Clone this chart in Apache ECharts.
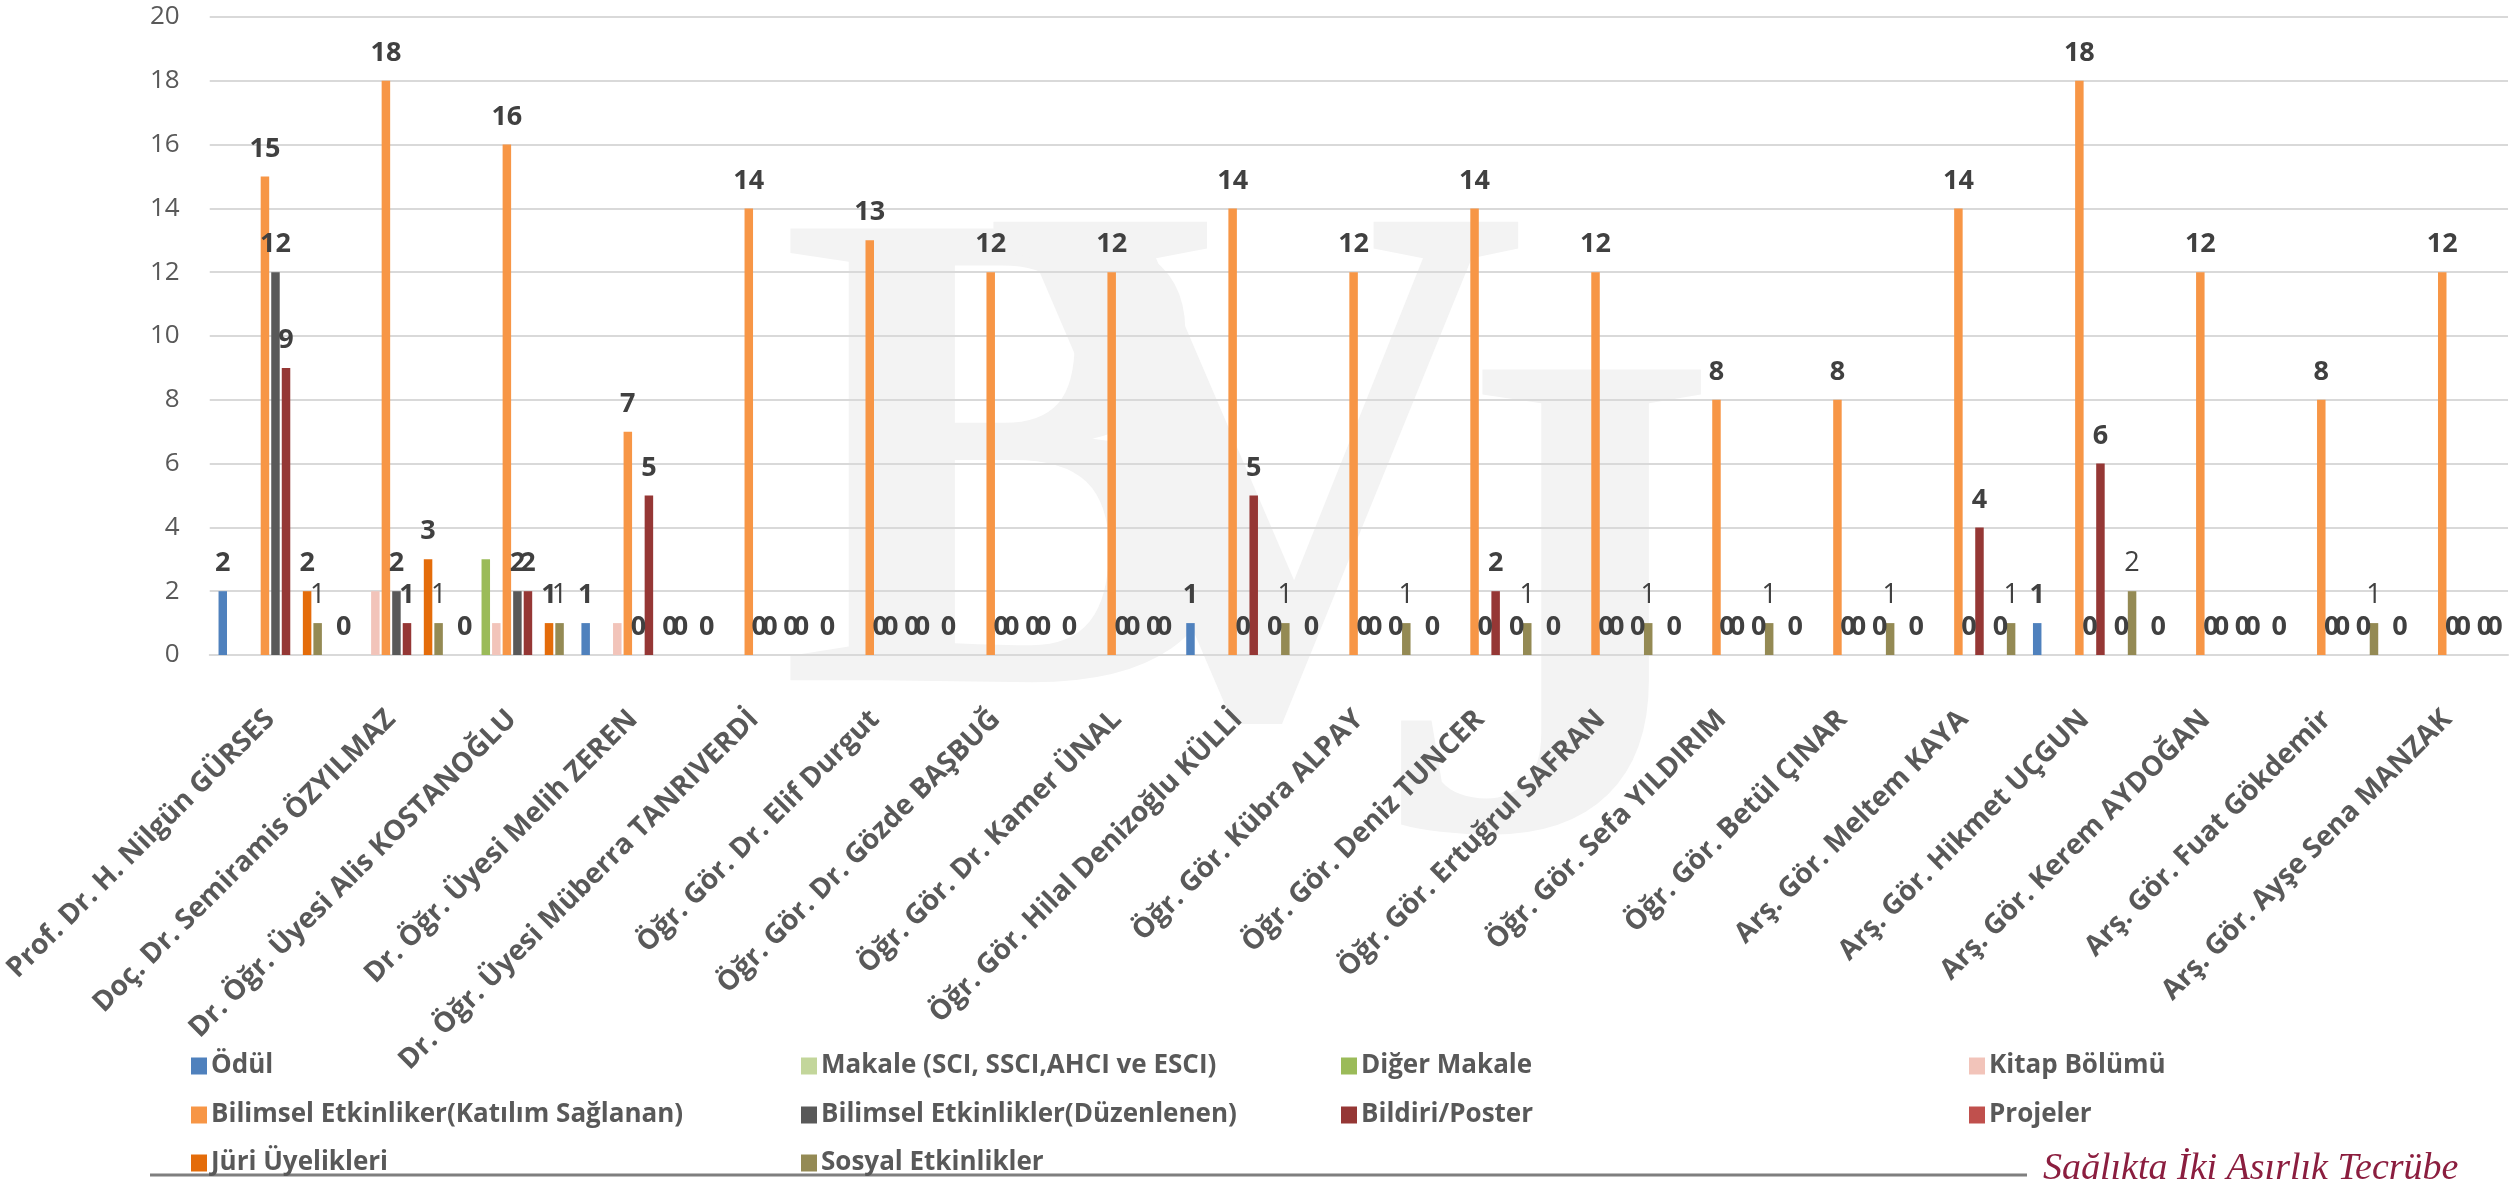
<!DOCTYPE html>
<html>
<head>
<meta charset="utf-8">
<script src="https://cdn.jsdelivr.net/npm/echarts@6/dist/echarts.min.js"></script>
<style>
html,body{margin:0;padding:0;background:#fff;}
#chart{width:2519px;height:1179px;}
</style>
</head>
<body>
<div id="chart"></div>
<script>
const categories = [
  "Prof. Dr. H. Nilgün GÜRSES",
  "Doç. Dr. Semiramis ÖZYILMAZ",
  "Dr. Öğr. Üyesi Alis KOSTANOĞLU",
  "Dr. Öğr. Üyesi Melih ZEREN",
  "Dr. Öğr. Üyesi Müberra TANRIVERDİ",
  "Öğr. Gör. Dr. Elif Durgut",
  "Öğr. Gör. Dr. Gözde BAŞBUĞ",
  "Öğr. Gör. Dr. Kamer ÜNAL",
  "Öğr. Gör. Hilal Denizoğlu KÜLLİ",
  "Öğr. Gör. Kübra ALPAY",
  "Öğr. Gör. Deniz TUNCER",
  "Öğr. Gör. Ertuğrul SAFRAN",
  "Öğr. Gör. Sefa YILDIRIM",
  "Öğr. Gör. Betül ÇINAR",
  "Arş. Gör. Meltem KAYA",
  "Arş. Gör. Hikmet UÇGUN",
  "Arş. Gör. Kerem AYDOĞAN",
  "Arş. Gör. Fuat Gökdemir",
  "Arş. Gör. Ayşe Sena MANZAK"
];
const seriesNames = [
  "Ödül",
  "Makale (SCI, SSCI,AHCI ve ESCI)",
  "Diğer Makale",
  "Kitap Bölümü",
  "Bilimsel Etkinliker(Katılım Sağlanan)",
  "Bilimsel Etkinlikler(Düzenlenen)",
  "Bildiri/Poster",
  "Projeler",
  "Jüri Üyelikleri",
  "Sosyal Etkinlikler"
];
const odul            = [2,0,0,1,0,0,0,0,1,0,0,0,0,0,0,1,0,0,0];
const makale          = [0,0,0,0,0,0,0,0,0,0,0,0,0,0,0,0,0,0,0];
const digerMakale     = [0,0,3,0,0,0,0,0,0,0,0,0,0,0,0,0,0,0,0];
const kitapBolumu     = [0,2,1,1,0,0,0,0,0,0,0,0,0,0,0,0,0,0,0];
const bilimselKatilim = [15,18,16,7,14,13,12,12,14,12,14,12,8,8,14,18,12,8,12];
const bilimselDuzen   = [12,2,2,0,0,0,0,0,0,0,0,0,0,0,0,0,0,0,0];
const bildiriPoster   = [9,1,2,5,0,0,0,0,5,0,2,0,0,0,4,6,0,0,0];
const projeler        = [0,0,0,0,0,0,0,0,0,0,0,0,0,0,0,0,0,0,0];
const juriUyelikleri  = [2,3,1,0,0,0,0,0,0,0,0,0,0,0,0,0,0,0,0];
const sosyalEtkinlik  = [1,1,1,0,0,0,0,0,1,1,1,1,1,1,1,2,0,1,0];
const yTicks = {min:0, max:20, interval:2};

const seriesData = [odul, makale, digerMakale, kitapBolumu, bilimselKatilim, bilimselDuzen, bildiriPoster, projeler, juriUyelikleri, sosyalEtkinlik];
const colors = ["#4F81BD","#C3D69B","#9BBB59","#F2C4BA","#F79646","#595959","#953735","#C0504D","#E46C0A","#948A54"];
const labelled = [true,false,false,false,true,true,true,false,true,true];

const FONT = "Open Sans";
const series = seriesData.map((arr, i) => {
  let data = arr;
  if (i === 9) {
    data = arr.map(v => v > 0 ? {value: v, label: {fontWeight: 'normal'}} : v);
  }
  return {
    name: seriesNames[i],
    type: 'bar',
    data: data,
    barWidth: 8.5,
    barGap: '24%',
    itemStyle: {color: colors[i]},
    label: {
      show: labelled[i],
      position: 'top',
      distance: 14,
      fontFamily: FONT,
      fontSize: 27,
      fontWeight: 'bold',
      color: '#404040'
    },
    emphasis: {disabled: true},
    animation: false
  };
});

const legendCols = [186, 796, 1336, 1964];
const legendRows = [1063, 1112, 1160];
const legendLayout = [[0,0],[1,0],[2,0],[3,0],[0,1],[1,1],[2,1],[3,1],[0,2],[1,2]];
const legends = seriesNames.map((nm, i) => ({
  left: legendCols[legendLayout[i][0]],
  top: legendRows[legendLayout[i][1]] - 15,
  orient: 'horizontal',
  itemWidth: 16,
  itemHeight: 17,
  itemGap: 0,
  itemStyle: {borderWidth: 0},
  icon: 'rect',
  textStyle: {fontFamily: FONT, fontSize: 26, fontWeight: 'bold', color: '#595959', padding: [0,0,0,-1]},
  data: [nm]
}));

const WM = '#f3f3f3';
const chart = echarts.init(document.getElementById('chart'));
chart.setOption({
  animation: false,
  backgroundColor: '#ffffff',
  color: colors,
  grid: {left: 205, right: 11, top: 17, bottom: 524, containLabel: false},
  xAxis: {
    type: 'category',
    data: categories,
    axisTick: {show: false},
    axisLine: {lineStyle: {color: '#d9d9d9', width: 2}},
    axisLabel: {
      interval: 0,
      rotate: 45,
      margin: 60,
      fontFamily: FONT,
      fontSize: 28,
      fontWeight: 'bold',
      color: '#595959'
    }
  },
  yAxis: {
    type: 'value',
    min: yTicks.min,
    max: yTicks.max,
    interval: yTicks.interval,
    axisLine: {show: false},
    axisTick: {show: false},
    splitLine: {lineStyle: {color: '#d9d9d9', width: 2}},
    axisLabel: {fontFamily: FONT, fontSize: 26, color: '#595959', margin: 30}
  },
  legend: legends,
  graphic: [
    {type: 'text', z: -10, left: 779, top: 157, style: {text: 'B', font: 'bold 690px "Liberation Serif"', fill: WM}},
    {type: 'text', z: -10, left: 985, top: 144, style: {text: 'V', font: 'bold 750px "Liberation Serif"', fill: WM}},
    {type: 'text', z: -10, left: 1370, top: 297, style: {text: 'J', font: 'bold 700px "Liberation Serif"', fill: WM}},
    {type: 'line', shape: {x1: 150, y1: 1175, x2: 2027, y2: 1175}, style: {stroke: '#7f7f7f', lineWidth: 3}},
    {type: 'text', left: 2043, top: 1150, style: {text: 'Sağlıkta İki Asırlık Tecrübe', font: 'italic 38px "Liberation Serif"', fill: '#8B1E3F'}}
  ],
  series: series
});
</script>
</body>
</html>
